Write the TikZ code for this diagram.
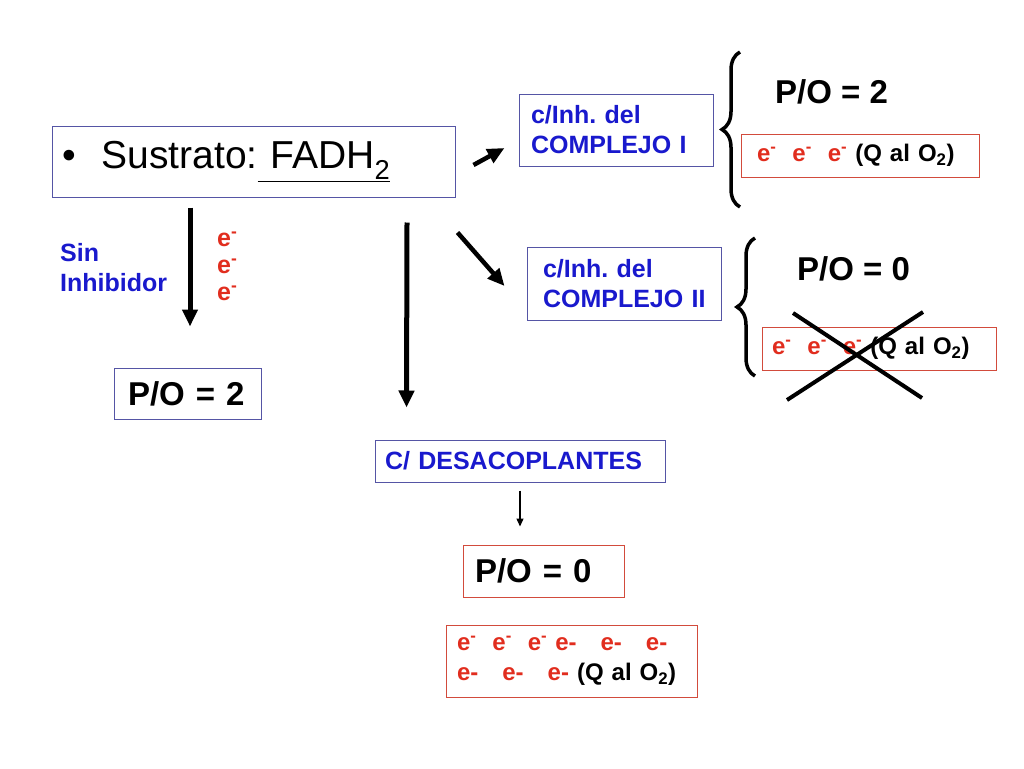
\documentclass[tikz,border=0pt]{standalone}
\usepackage{fontspec}
\setmainfont{Liberation Sans}
\usetikzlibrary{arrows.meta,calc,decorations.pathreplacing}
\definecolor{azul}{RGB}{25,25,205}
\definecolor{rojo}{RGB}{225,45,30}
\definecolor{bordeazul}{RGB}{85,85,165}
\definecolor{borderojo}{RGB}{210,75,60}
\tikzset{
  caja/.style={draw=#1, line width=1pt, inner ysep=0pt, align=left},
  etiqueta/.style={text=azul, font=\bfseries\fontsize{25}{30}\selectfont},
  electrones/.style={font=\bfseries\fontsize{24}{30}\selectfont},
  razon/.style={font=\bfseries\fontsize{33}{40}\selectfont},
  flecha/.style={line width=5pt, -{Triangle[length=17pt,width=15pt]}},
  llave/.style={decorate, decoration={brace, amplitude=18pt}, line width=3.5pt},
}
\newcommand{\elec}{e\textsuperscript{-}}
\frenchspacing

\begin{document}
\begin{tikzpicture}[x=1pt,y=-1pt]
	\useasboundingbox (0,0) rectangle (1024,768);

	\node[caja=bordeazul, text width=383pt, inner xsep=10pt, minimum height=71pt, font=\fontsize{39}{45}\selectfont] (sus) at (253.5,161.5) {•\hspace{26pt}Sustrato:\underline{\ FADH\textsubscript{2}}};

	\node[caja=bordeazul, etiqueta, text width=170pt, inner xsep=12pt, minimum height=72pt] (c1) at (616,130) {c/Inh. del\\COMPLEJO~I};
	\node[caja=bordeazul, etiqueta, text width=162pt, inner xsep=16pt, minimum height=73pt] (c2) at (624,283.5) {c/Inh. del\\COMPLEJO~II};
	\node[caja=bordeazul, etiqueta, text width=270pt, inner xsep=10pt, minimum height=42pt] (desac) at (520,461) {C/~DESACOPLANTES};

	\node[razon, anchor=base west, inner sep=0pt] (poa) at (775,103) {P/O = 2};
	\node[razon, anchor=base west, inner sep=0pt] (pob) at (797,280) {P/O = 0};
	\node[caja=bordeazul, razon, text width=119pt, inner xsep=14pt, minimum height=51pt] (po2) at (187.5,393.5) {P/O = 2};
	\node[caja=borderojo, razon, text width=137pt, inner xsep=12pt, minimum height=52pt] (po0) at (543.5,571) {P/O = 0};

	\node[caja=borderojo, electrones, text width=206pt, inner xsep=16pt, minimum height=43pt] (q1) at (860,155.5) {\textcolor{rojo}{\elec\ \ \elec\ \ \elec} (Q al O\textsubscript{2})};
	\node[caja=borderojo, electrones, text width=214pt, inner xsep=10pt, minimum height=43pt] (q2) at (879,348.5) {\textcolor{rojo}{\elec\ \ \elec\ \ \elec} (Q al O\textsubscript{2})};
	\node[caja=borderojo, electrones, text width=229pt, inner xsep=11pt, minimum height=72pt] (q3) at (571.5,661) {\textcolor{rojo}{\elec\ \ \elec\ \ \elec\ e-\ \ \ e-\ \ \ e-}\\\textcolor{rojo}{e-\ \ \ e-\ \ \ e-} (Q al O\textsubscript{2})};

	\node[etiqueta, anchor=north west, inner sep=0pt, align=left] (sin) at (60,243) {Sin\\Inhibidor};
	\node[etiqueta, text=rojo, anchor=north west, inner sep=0pt, align=left, font=\bfseries\fontsize{25}{27}\selectfont] (tres) at (217,232) {\elec\\\elec\\\elec};

	\draw[llave] (740,207) -- (740,52);
	\draw[llave] (755,376) -- (755,238);

	\draw[flecha, line width=4.5pt] ($(sus.east)+(18,3.5)$) -- ($(c1.west)+(-14,18)$);
	\draw[flecha, line width=4.5pt] ($(sus.south east)+(2,35)$) -- ($(c2.west)+(-22,2.5)$);
	\draw[flecha] ($(sus.south -| po2.north)+(2.5,10)$) -- ($(po2.north)+(2.5,-41)$);
	\draw[flecha] ($(sus.south)+(153.5,25)$) -- ($(desac.north west)+(32,-32)$);
	\draw[line width=1.3pt, -{Triangle[length=8pt,width=7pt]}] ($(desac.south)+(0,8)$) -- ($(po0.north)+(-23.5,-18)$);

	\draw[line width=4pt] (787,400) -- (923,312);
	\draw[line width=4pt] (793,313) -- (922,398);
\end{tikzpicture}
\end{document}
